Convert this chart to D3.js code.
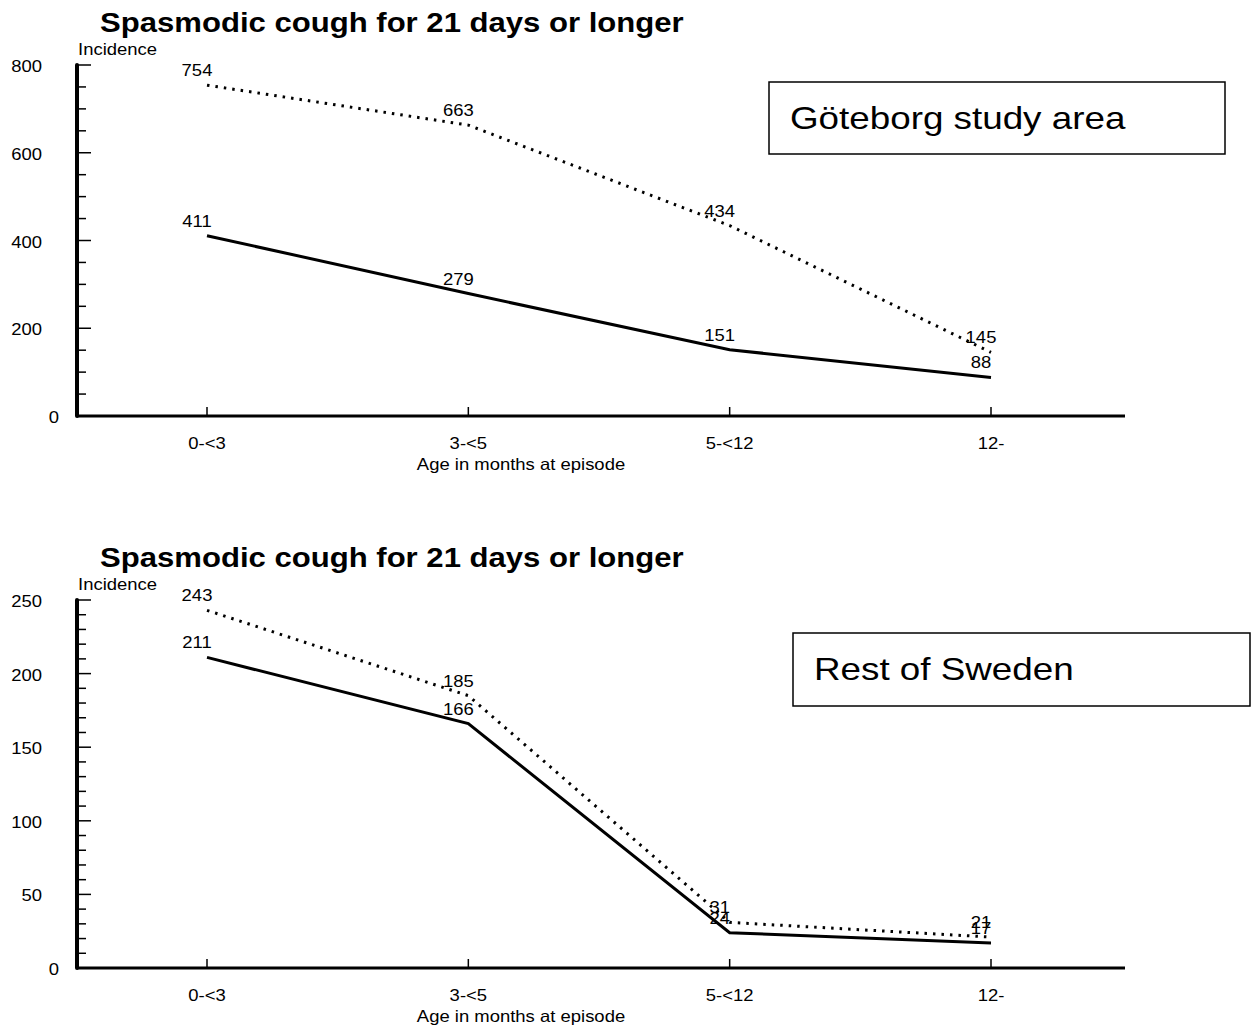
<html><head>
<meta charset="utf-8">
<script src="https://d3js.org/d3.v7.min.js"></script>
<style>
  body { margin: 0; background: #fff; }
  svg text { font-family: "Liberation Sans", Arial, sans-serif; fill: #000; }
  .title { font-size: 28px; font-weight: bold; }
  .small { font-size: 16.5px; }
  .legend-txt { font-size: 32px; }
</style>
</head>
<body>
<svg id="chart" width="1253" height="1030"></svg>
<script>

const ageGroups = ["0-<3", "3-<5", "5-<12", "12-"];

// Göteborg study area
const gbgDotted = [754, 663, 434, 145];
const gbgSolid  = [411, 279, 151, 88];
const gbgTicks  = [0, 200, 400, 600, 800];

// Rest of Sweden
const rosDotted = [243, 185, 31, 21];
const rosSolid  = [211, 166, 24, 17];
const rosTicks  = [0, 50, 100, 150, 200, 250];

const svg = d3.select("#chart");

// the original text is a little wider than Arial, so stretch it sideways
function putText(g, cls, x, y, txt, anchor, sx) {
  return g.append("text").attr("class", cls)
    .attr("text-anchor", anchor || "start")
    .attr("transform", "translate(" + x + "," + y + ") scale(" + (sx || 1.12) + ",1)")
    .text(txt);
}

function drawPanel(p) {
  let g = svg.append("g");

  let x = d3.scalePoint().domain(ageGroups).range([207, 991]);
  let y = d3.scaleLinear().domain([0, p.max]).range([p.bottom, p.top]);

  // title
  putText(g, "title", 100, p.top - 33, "Spasmodic cough for 21 days or longer", "start", 1.11);
  putText(g, "small", 78, p.top - 10, "Incidence");

  // minor ticks on y axis, longer at labelled values
  g.selectAll(".minor").data(d3.range(0, p.max + 0.001, p.minor))
    .join("line")
    .attr("x1", 77).attr("x2", d => p.ticks.includes(d) ? 91 : 86)
    .attr("y1", d => y(d)).attr("y2", d => y(d))
    .attr("stroke", "#000").attr("stroke-width", 1.5);

  // y labels (the zero sits a bit off to the right, as in the original)
  p.ticks.forEach(d => {
    putText(g, "small", d === 0 ? 59 : 42, y(d) + 7, d, "end");
  });

  // y axis
  g.append("line")
    .attr("x1", 77).attr("x2", 77)
    .attr("y1", y(p.max)).attr("y2", p.bottom)
    .attr("stroke", "#000").attr("stroke-width", 4)
    .attr("stroke-linecap", "round");

  // x axis
  g.append("line")
    .attr("x1", 77).attr("x2", 1125)
    .attr("y1", p.bottom).attr("y2", p.bottom)
    .attr("stroke", "#000").attr("stroke-width", 3);

  g.selectAll(".xtick").data(ageGroups).join("line")
    .attr("x1", d => x(d)).attr("x2", d => x(d))
    .attr("y1", p.bottom).attr("y2", p.bottom - 9)
    .attr("stroke", "#000").attr("stroke-width", 1.5);

  ageGroups.forEach(d => {
    putText(g, "small", x(d), p.bottom + 33, d, "middle");
  });

  putText(g, "small", 521, p.bottom + 54, "Age in months at episode", "middle");

  let line = d3.line()
    .x((d, i) => x(ageGroups[i]))
    .y(d => y(d));

  g.append("path").datum(p.solid)
    .attr("d", line).attr("fill", "none")
    .attr("stroke", "#000").attr("stroke-width", 3);

  g.append("path").datum(p.dotted)
    .attr("d", line).attr("fill", "none")
    .attr("stroke", "#000").attr("stroke-width", 3)
    .attr("stroke-dasharray", "2.5,6");

  [p.dotted, p.solid].forEach(s => {
    s.forEach((d, i) => {
      putText(g, "small", x(ageGroups[i]) - 10, y(d) - 9, d, "middle");
    });
  });

  // legend box
  g.append("rect")
    .attr("x", p.box[0]).attr("y", p.box[1])
    .attr("width", p.box[2]).attr("height", p.box[3])
    .attr("fill", "#fff").attr("stroke", "#000").attr("stroke-width", 1.5);
  putText(g, "legend-txt", p.box[0] + 21, p.box[1] + 47, p.label, "start", 1.15);
}

drawPanel({ top: 65, bottom: 416, max: 800, minor: 50, ticks: gbgTicks,
  dotted: gbgDotted, solid: gbgSolid, box: [769, 82, 456, 72], label: "Göteborg study area" });

drawPanel({ top: 600, bottom: 968, max: 250, minor: 10, ticks: rosTicks,
  dotted: rosDotted, solid: rosSolid, box: [793, 633, 457, 73], label: "Rest of Sweden" });

</script>
</body>
</html>
